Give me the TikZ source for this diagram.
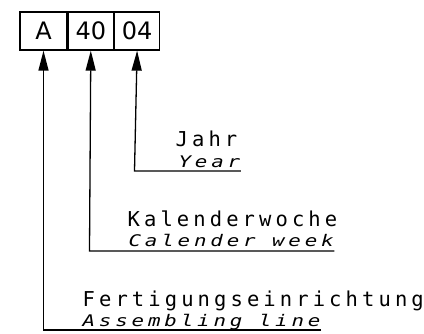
\documentclass[tikz,border=0pt]{standalone}
\usepackage{fontspec}
\usetikzlibrary{arrows.meta}
\newfontfamily\cadfont[LetterSpace=20]{DejaVu Sans Mono}
\newfontfamily\cadfonten[LetterSpace=24,FakeStretch=1.3]{DejaVu Sans Mono}
\newfontfamily\cadbox{DejaVu Sans}

\begin{document}
\begin{tikzpicture}[x=1pt,y=-1pt,line width=1.3pt,
  cell/.style={draw,minimum width=45pt,minimum height=38pt,inner sep=0pt,
   font=\cadbox\fontsize{24}{24}\selectfont},
  de/.style={anchor=base west,inner sep=0pt,font=\cadfont\fontsize{20.5}{20.5}\selectfont},
  en/.style={anchor=base west,inner sep=0pt,font=\cadfonten\itshape\fontsize{16}{16}\selectfont},
  tip/.style={-{Triangle[length=20pt,width=10pt]}}]
 \useasboundingbox (0,0) rectangle (424,334);
 % code boxes
 \node[cell,minimum width=47pt] (line) at (43.5,31) {A};
 \node[cell,anchor=west] (week) at (line.east) {40};
 \node[cell,anchor=west] (year) at (week.east) {04};
 % labels
 \node[de] (jahr) at (175,147) {Jahr};
 \node[en] (yearen) at (178,168) {Year};
 \node[de] (kw) at (127,227) {Kalenderwoche};
 \node[en] (weeken) at (128,247) {Calender week};
 \node[de] (fe) at (82,307) {Fertigungseinrichtung};
 \node[en] (lineen) at (82,327) {Assembling line};
 % leaders
 \coordinate (cyear) at (134.5,171);
 \coordinate (cweek) at (89.5,251);
 \coordinate (cline) at (43.5,330);
 \draw[tip] (cyear -| yearen.east) -- (cyear) -- (year.south);
 \draw[tip] (cweek -| weeken.east) -- (cweek) -- (week.south);
 \draw[tip] (cline -| lineen.east) -- (cline) -- (line.south);
\end{tikzpicture}
\end{document}
